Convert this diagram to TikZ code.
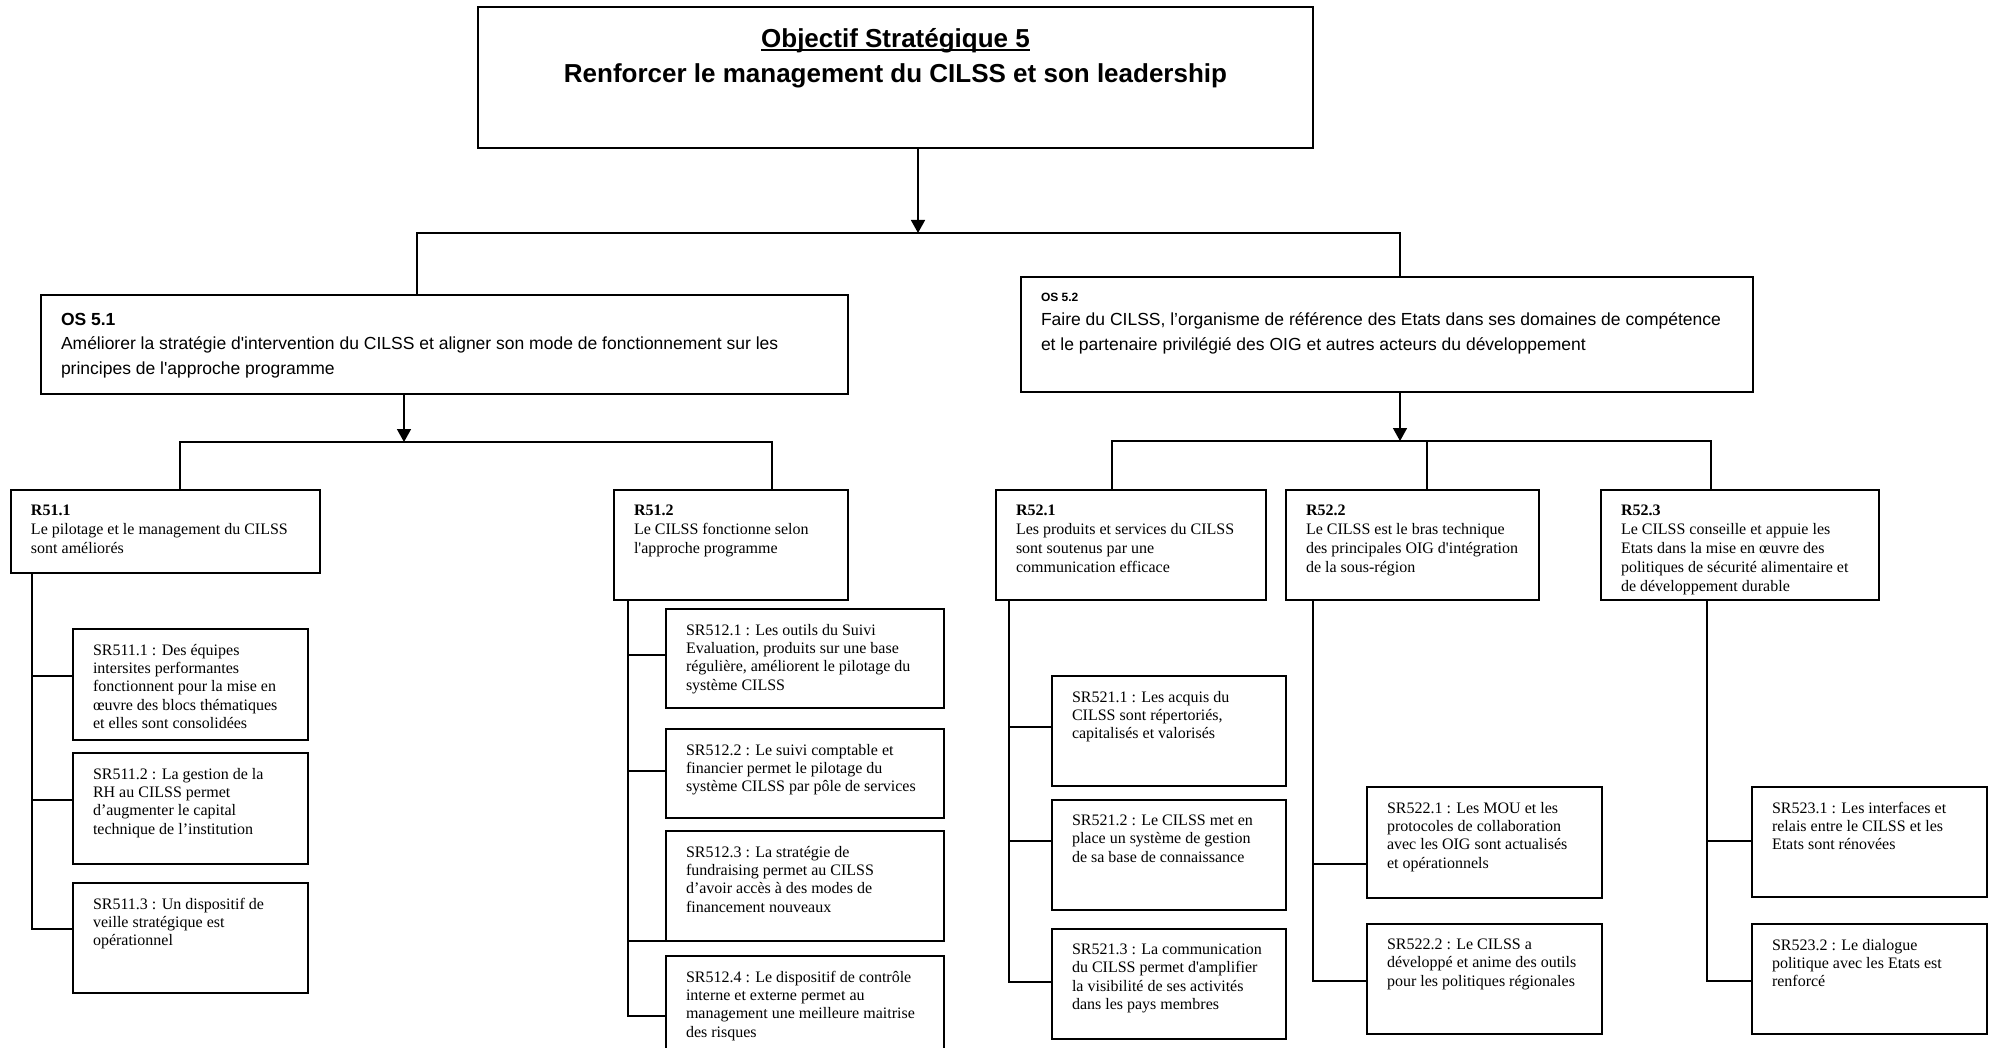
\documentclass[tikz,border=0pt]{standalone}
\usepackage{fontspec}
\newfontfamily\arialfam{Liberation Sans}
\newfontfamily\timesfam{Liberation Serif}
\usetikzlibrary{arrows.meta}

\newcommand{\titlefont}{\arialfam\bfseries\fontsize{26}{35.5}\selectfont}
\newcommand{\osfont}{\arialfam\fontsize{17.5}{24.5}\selectfont}
\newcommand{\rfont}{\timesfam\fontsize{16}{19}\selectfont}
\newcommand{\srfont}{\timesfam\fontsize{16}{18.3}\selectfont}
% thick underline of the title
\newcommand{\thickul}[1]{\leavevmode\setbox0\hbox{#1}\rlap{\rule[-3.8pt]{\wd0}{2.2pt}}\box0}
% text of a frame: width, height, top gap, text
\newcommand{\cellbox}[4]{\parbox[c][#2][t]{#1}{\raggedright\leftskip=20pt\relax\vspace*{#3}#4}}

\begin{document}
\begin{tikzpicture}[x=1pt,y=-1pt,>={Triangle[length=13pt,width=14pt]},
  frame/.style={draw,line width=1.8pt,anchor=north west,inner sep=0pt,outer sep=0pt},
  link/.style={line width=1.6pt},
  bus/.style={line width=2pt}]
  \useasboundingbox (0,0) rectangle (1993,1048);
  \clip (0,0) rectangle (1993,1048);

  % objectif strategique
  \node[frame,font=\titlefont] (top) at (478,7)
    {\parbox[c][141pt][t]{835pt}{\centering\vspace*{21pt}\thickul{Objectif Stratégique 5}\\Renforcer le management du CILSS et son leadership}};

  \node[frame,font=\osfont] (os1) at (41,295)
    {\cellbox{807pt}{99pt}{18pt}{\textbf{OS 5.1}\\Améliorer la stratégie d'intervention du CILSS et aligner son mode de fonctionnement sur les\\principes de l'approche programme}};
  \node[frame,font=\osfont] (os2) at (1021,277)
    {\cellbox{732pt}{115pt}{16pt}{{\fontsize{12}{14}\selectfont\bfseries OS 5.2}\\Faire du CILSS, l’organisme de référence des Etats dans ses domaines de compétence\\et le partenaire privilégié des OIG et autres acteurs du développement}};

  % resultats
  \node[frame,font=\rfont] (r511) at (11,490)
    {\cellbox{309pt}{83pt}{14.5pt}{\textbf{R51.1}\\Le pilotage et le management du CILSS\\sont améliorés}};
  \node[frame,font=\rfont] (r512) at (614,490)
    {\cellbox{234pt}{110pt}{14.5pt}{\textbf{R51.2}\\Le CILSS fonctionne selon\\l'approche programme}};
  \node[frame,font=\rfont] (r521) at (996,490)
    {\cellbox{270pt}{110pt}{14.5pt}{\textbf{R52.1}\\Les produits et services du CILSS\\sont soutenus par une\\communication efficace}};
  \node[frame,font=\rfont] (r522) at (1286,490)
    {\cellbox{253pt}{110pt}{14.5pt}{\textbf{R52.2}\\Le CILSS est le bras technique\\des principales OIG d'intégration\\de la sous-région}};
  \node[frame,font=\rfont] (r523) at (1601,490)
    {\cellbox{278pt}{110pt}{14.5pt}{\textbf{R52.3}\\Le CILSS conseille et appuie les\\Etats dans la mise en œuvre des\\politiques de sécurité alimentaire et\\de développement durable}};

  % sous-resultats
  \node[frame,font=\srfont] (sr5111) at (73,629)
    {\cellbox{235pt}{111pt}{15pt}{SR511.1 : Des équipes\\intersites performantes\\fonctionnent pour la mise en\\œuvre des blocs thématiques\\et elles sont consolidées}};
  \node[frame,font=\srfont] (sr5112) at (73,753)
    {\cellbox{235pt}{111pt}{15pt}{SR511.2 : La gestion de la\\RH au CILSS permet\\d’augmenter le capital\\technique de l’institution}};
  \node[frame,font=\srfont] (sr5113) at (73,883)
    {\cellbox{235pt}{110pt}{15pt}{SR511.3 : Un dispositif de\\veille stratégique est\\opérationnel}};

  \node[frame,font=\srfont] (sr5121) at (666,609)
    {\cellbox{278pt}{99pt}{15pt}{SR512.1 : Les outils du Suivi\\Evaluation, produits sur une base\\régulière, améliorent le pilotage du\\système CILSS}};
  \node[frame,font=\srfont] (sr5122) at (666,729)
    {\cellbox{278pt}{89pt}{15pt}{SR512.2 : Le suivi comptable et\\financier permet le pilotage du\\système CILSS par pôle de services}};
  \node[frame,font=\srfont] (sr5123) at (666,831)
    {\cellbox{278pt}{110pt}{15pt}{SR512.3 : La stratégie de\\fundraising permet au CILSS\\d’avoir accès à des modes de\\financement nouveaux}};
  \node[frame,font=\srfont] (sr5124) at (666,956)
    {\cellbox{278pt}{120pt}{15pt}{SR512.4 : Le dispositif de contrôle\\interne et externe permet au\\management une meilleure maitrise\\des risques}};

  \node[frame,font=\srfont] (sr5211) at (1052,676)
    {\cellbox{234pt}{110pt}{15pt}{SR521.1 : Les acquis du\\CILSS sont répertoriés,\\capitalisés et valorisés}};
  \node[frame,font=\srfont] (sr5212) at (1052,800)
    {\cellbox{234pt}{110pt}{15pt}{SR521.2 : Le CILSS met en\\place un système de gestion\\de sa base de connaissance}};
  \node[frame,font=\srfont] (sr5213) at (1052,929)
    {\cellbox{234pt}{110pt}{15pt}{SR521.3 : La communication\\du CILSS permet d'amplifier\\la visibilité de ses activités\\dans les pays membres}};

  \node[frame,font=\srfont] (sr5221) at (1367,787)
    {\cellbox{235pt}{111pt}{15pt}{SR522.1 : Les MOU et les\\protocoles de collaboration\\avec les OIG sont actualisés\\et opérationnels}};
  \node[frame,font=\srfont] (sr5222) at (1367,924)
    {\cellbox{235pt}{110pt}{15pt}{SR522.2 : Le CILSS a\\développé et anime des outils\\pour les politiques régionales}};

  \node[frame,font=\srfont] (sr5231) at (1752,787)
    {\cellbox{235pt}{110pt}{15pt}{SR523.1 : Les interfaces et\\relais entre le CILSS et les\\Etats sont rénovées}};
  \node[frame,font=\srfont] (sr5232) at (1752,924)
    {\cellbox{235pt}{110pt}{15pt}{SR523.2 : Le dialogue\\politique avec les Etats est\\renforcé}};

  % liaisons OS
  \coordinate (bus0) at (918,233);
  \coordinate (bus0l) at (417,233);
  \coordinate (bus0r) at (1400,233);
  \draw[link,->] (bus0 |- top.south) -- (bus0);
  \draw[bus] (bus0l |- os1.north) -- (bus0l) -- (bus0r) -- (bus0r |- os2.north);

  \coordinate (bus1) at (404,442);
  \coordinate (bus1l) at (180,442);
  \coordinate (bus1r) at (772,442);
  \draw[link,->] (bus1 |- os1.south) -- (bus1);
  \draw[bus] (bus1l |- r511.north) -- (bus1l) -- (bus1r) -- (bus1r |- r512.north);

  \coordinate (bus2) at (1400,441);
  \coordinate (bus2l) at (1112,441);
  \coordinate (bus2m) at (1427,441);
  \coordinate (bus2r) at (1711,441);
  \draw[link,->] (bus2 |- os2.south) -- (bus2);
  \draw[bus] (bus2l |- r521.north) -- (bus2l) -- (bus2r) -- (bus2r |- r523.north);
  \draw[link] (bus2m) -- (bus2m |- r522.north);

  % liaisons sous-resultats
  \coordinate (t511) at ([xshift=21pt]r511.south west);
  \coordinate (t512) at ([xshift=14pt]r512.south west);
  \coordinate (t521) at ([xshift=13pt]r521.south west);
  \coordinate (t522) at ([xshift=27pt]r522.south west);
  \coordinate (t523) at ([xshift=106pt]r523.south west);
  \foreach \n/\d in {5111/8.5,5112/8.5,5113/9}
    \draw[link] (t511) |- ([yshift=\d pt]sr\n.west);
  \foreach \n/\d in {5121/3.5,5122/2.5,5123/-55,5124/0}
    \draw[link] (t512) |- ([yshift=\d pt]sr\n.west);
  \foreach \n/\d in {5211/4,5212/14,5213/2}
    \draw[link] (t521) |- ([yshift=\d pt]sr\n.west);
  \foreach \n/\d in {5221/-21.5,5222/-2}
    \draw[link] (t522) |- ([yshift=\d pt]sr\n.west);
  \foreach \n/\d in {5231/1,5232/-2}
    \draw[link] (t523) |- ([yshift=\d pt]sr\n.west);
\end{tikzpicture}
\end{document}
